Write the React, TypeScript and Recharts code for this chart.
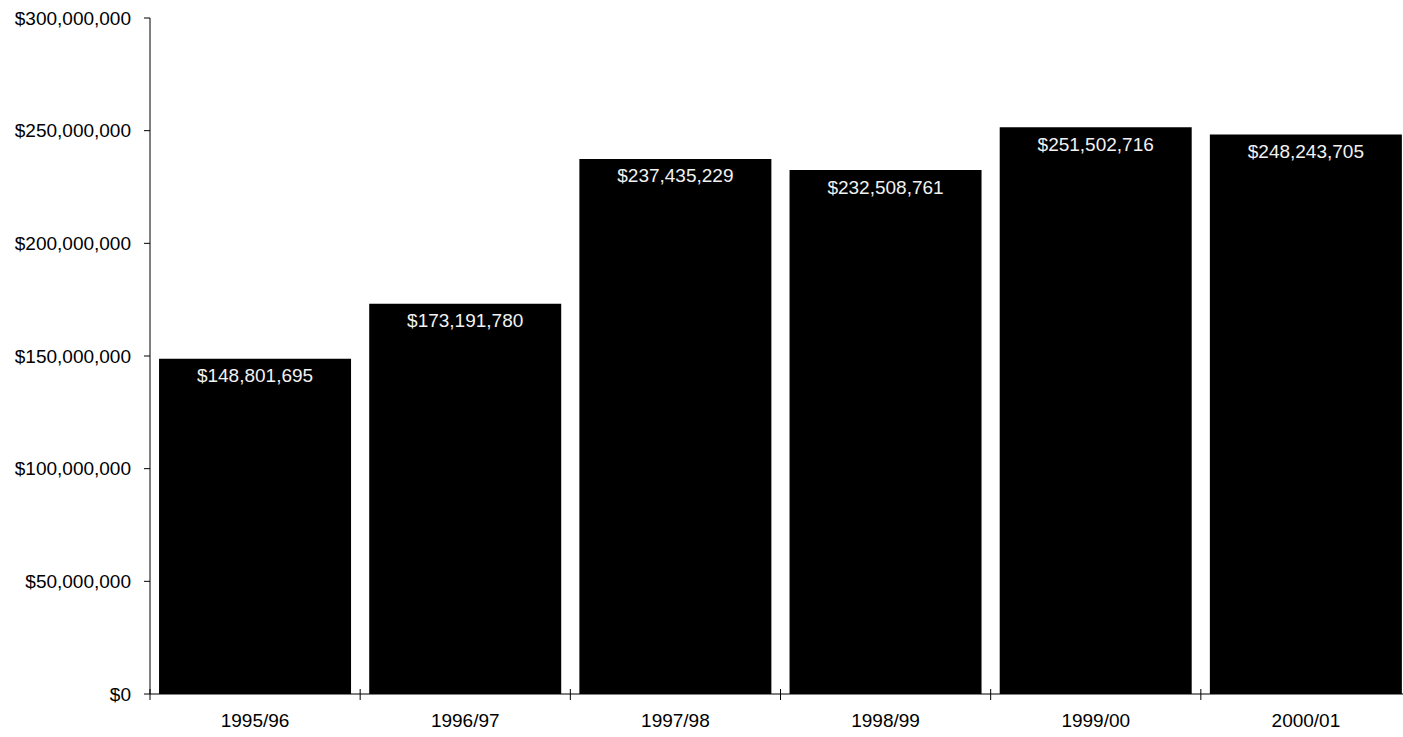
import { BarChart, Bar, XAxis, YAxis, LabelList } from "recharts";

const years: string[] = ["1995/96", "1996/97", "1997/98", "1998/99", "1999/00", "2000/01"];
const totals: number[] = [148801695, 173191780, 237435229, 232508761, 251502716, 248243705];
const yTicks: number[] = [0, 50000000, 100000000, 150000000, 200000000, 250000000, 300000000];

const data = years.map((name, i) => ({ name, total: totals[i] }));

const FONT = "'Liberation Sans', Arial, sans-serif";
const W = 1411;
const H = 737;
const LEFT = 150;
const TOP = 18;
const XH = 43;
const AXIS_Y = H - XH;
const BAND = (W - LEFT) / years.length;

const money = (v: number) => "$" + v.toLocaleString("en-US");

// category axis: boundary ticks crossing the axis line, label in the middle
function XTick(props: any) {
  const { x, index } = props;
  const half = BAND / 2;
  return (
    <g>
      <line x1={x - half} x2={x - half} y1={AXIS_Y - 5} y2={AXIS_Y + 6} stroke="#000" />
      {index === years.length - 1 && (
        <line x1={x + half} x2={x + half} y1={AXIS_Y - 5} y2={AXIS_Y + 6} stroke="#000" />
      )}
      <text x={x} y={AXIS_Y + 26} textAnchor="middle" dominantBaseline="central" fontSize={19} fontFamily={FONT} fill="#000">
        {props.payload.value}
      </text>
    </g>
  );
}

export default function App() {
  return (
    <div style={{ position: "absolute", left: 0, top: 0, width: 1403, height: H, overflow: "hidden", background: "#fff" }}>
      <BarChart width={W} height={H} data={data} margin={{ top: TOP, right: 0, left: 0, bottom: 0 }} barCategoryGap="4.3%">
        <XAxis
          dataKey="name"
          height={XH}
          axisLine={{ stroke: "#000" }}
          tickLine={false}
          tick={<XTick />}
          interval={0}
        />
        <YAxis
          width={LEFT}
          domain={[0, 300000000]}
          ticks={yTicks}
          tickFormatter={money}
          axisLine={{ stroke: "#000" }}
          tickLine={{ stroke: "#000" }}
          tickSize={6}
          tickMargin={13}
          tick={{ fill: "#000", fontSize: 19, fontFamily: FONT }}
        />
        <Bar dataKey="total" fill="#000" isAnimationActive={false}>
          <LabelList
            dataKey="total"
            position="insideTop"
            offset={10}
            formatter={(v: any) => money(Number(v))}
            fill="#f2f2f2"
            fontSize={19}
            fontFamily={FONT}
          />
        </Bar>
      </BarChart>
    </div>
  );
}
